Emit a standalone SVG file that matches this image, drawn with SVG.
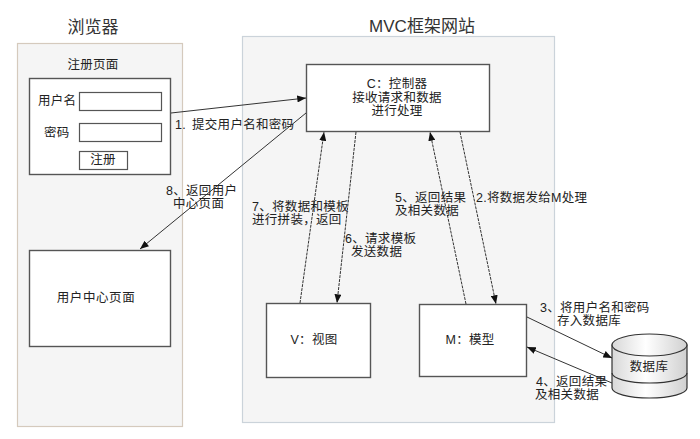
<svg xmlns="http://www.w3.org/2000/svg" width="700" height="439" viewBox="0 0 700 439">
<defs>
<style>
text{font-family:"Liberation Sans","Noto Sans CJK SC",sans-serif;font-size:12.5px;fill:#222;letter-spacing:0.3px}
.title{font-size:17px;fill:#333;letter-spacing:0}
.mid{text-anchor:middle}
.panel{fill:#f5f5f5;stroke-width:1.2}
.box{fill:#fff;stroke:#555;stroke-width:1.4}
.inp{fill:#fff;stroke:#555;stroke-width:1.2}
.con{fill:none;stroke:#333;stroke-width:1}
.dash{stroke-dasharray:3 1}
</style>
<marker id="ah" viewBox="0 0 10 8" refX="10" refY="4" markerWidth="9" markerHeight="7" markerUnits="userSpaceOnUse" orient="auto">
<path d="M0,0 L10,4 L0,8 z" fill="#111"/>
</marker>
<linearGradient id="cyl" x1="0" y1="0" x2="1" y2="0">
<stop offset="0" stop-color="#d8d8d8"/>
<stop offset="0.45" stop-color="#ffffff"/>
<stop offset="1" stop-color="#d0d0d0"/>
</linearGradient>
</defs>

<g id="browser-panel">
<text class="title mid" x="93" y="33">浏览器</text>
<rect class="panel" x="17.5" y="43.5" width="165" height="383" stroke="#d5cabd"/>
</g>

<g id="mvc-panel">
<text class="title mid" x="422" y="32">MVC框架网站</text>
<rect class="panel" x="242.5" y="36.5" width="312" height="386" stroke="#cbd3da"/>
</g>

<g id="register-page">
<text class="mid" x="93" y="69">注册页面</text>
<rect class="box" x="29.5" y="78.5" width="141" height="96"/>
<text x="38" y="105">用户名</text>
<rect class="inp" x="79.5" y="92.5" width="82" height="18"/>
<text x="44" y="137">密码</text>
<rect class="inp" x="79.5" y="123.5" width="82" height="18"/>
<rect class="inp" x="79.5" y="151.5" width="48" height="18"/>
<text class="mid" x="103" y="164">注册</text>
</g>

<g id="user-center-page">
<rect class="box" x="29.5" y="250.5" width="141" height="96"/>
<text class="mid" x="96" y="302" style="letter-spacing:0.6px">用户中心页面</text>
</g>

<g id="controller">
<rect class="box" x="306.5" y="64.5" width="183" height="67"/>
<text class="mid" x="397" y="88">C：控制器</text>
<text class="mid" x="397" y="102">接收请求和数据</text>
<text class="mid" x="397" y="115">进行处理</text>
</g>

<g id="view">
<rect class="box" x="266.5" y="303.5" width="104" height="74"/>
<text class="mid" x="314" y="344">V：视图</text>
</g>

<g id="model">
<rect class="box" x="419.5" y="304.5" width="107" height="72"/>
<text class="mid" x="470" y="344">M：模型</text>
</g>

<g id="database">
<path d="M612,345 L612,388 A37.5,10 0 0 0 687,388 L687,345 Z" fill="url(#cyl)" stroke="#333" stroke-width="1.2"/>
<ellipse cx="649.5" cy="345" rx="37.5" ry="11" fill="url(#cyl)" stroke="#333" stroke-width="1.2"/>
<path d="M612,373 A37.5,10 0 0 0 687,373" fill="none" stroke="#333" stroke-width="1.2"/>
<text class="mid" x="649" y="371">数据库</text>
</g>

<g id="connectors">
<line class="con" x1="171" y1="113" x2="306" y2="98" marker-end="url(#ah)"/>
<line class="con" x1="306" y1="113" x2="140" y2="249" marker-end="url(#ah)"/>
<line class="con dash" x1="300" y1="303" x2="324" y2="132" marker-end="url(#ah)"/>
<line class="con dash" x1="356" y1="132" x2="337" y2="303" marker-end="url(#ah)"/>
<line class="con dash" x1="466" y1="304" x2="430" y2="132" marker-end="url(#ah)"/>
<line class="con dash" x1="460" y1="132" x2="496" y2="304" marker-end="url(#ah)"/>
<line class="con" x1="527" y1="317" x2="612" y2="358" marker-end="url(#ah)"/>
<line class="con" x1="612" y1="383" x2="527" y2="347" marker-end="url(#ah)"/>
</g>

<g id="connector-labels">
<text x="175" y="129">1.<tspan x="192">提交用户名和密码</tspan></text>
<text x="166" y="195">8、返回用户</text>
<text x="173" y="208">中心页面</text>
<text x="252" y="211">7、将数据和模板</text>
<text x="252" y="224">进行拼装，返回</text>
<text x="345" y="243">6、请求模板</text>
<text x="351" y="256">发送数据</text>
<text x="395" y="202">5、返回结果</text>
<text x="395" y="215">及相关数据</text>
<text x="476" y="202">2.将数据发给M处理</text>
<text x="540" y="312">3、将用户名和密码</text>
<text x="557" y="325">存入数据库</text>
<text x="536" y="386">4、返回结果</text>
<text x="535" y="399">及相关数据</text>
</g>
</svg>
